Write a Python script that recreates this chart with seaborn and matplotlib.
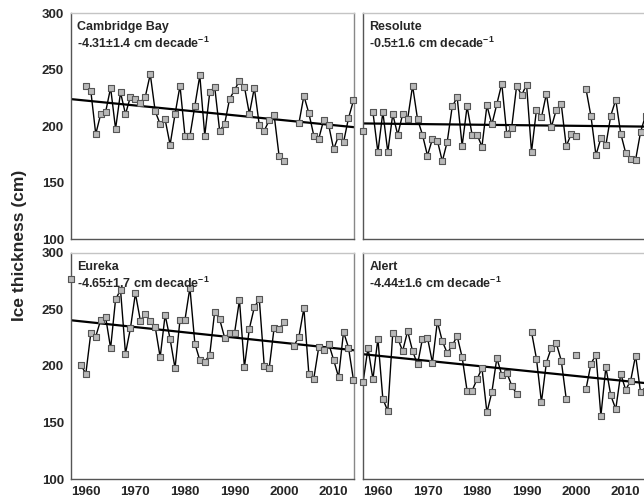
# ice thickness time series, four stations

import numpy as np
import pandas as pd
import seaborn as sns
import matplotlib.pyplot as plt

sns.set_theme(style='white')
plt.rcParams['font.family'] = ['Liberation Sans', 'DejaVu Sans']
plt.rcParams['mathtext.fontset'] = 'custom'
plt.rcParams['mathtext.rm'] = 'Liberation Sans:bold'
plt.rcParams['mathtext.bf'] = 'Liberation Sans:bold'

nan = np.nan
years = list(range(1957, 2015))

# values, 1957..2014 (nan = no data)
cambridge_bay = [nan, nan, nan,
    235.7, 231.3, 193.0, 210.6, 212.7, 233.9, 197.6, 229.8, 210.6, 226.0,
    223.9, 220.9, 226.0, 246.0, 213.0, 201.8, 205.9, 183.5, 210.6, 235.7,
    191.7, 191.2, 218.0, 244.8, 191.7, 229.8, 234.8, 195.9, 201.8, 223.9,
    231.9, 240.1, 234.8, 210.9, 233.9, 200.9, 195.9, 205.3, 209.7, 173.5,
    169.6, nan, nan, 202.7, 226.8, 211.5, 191.7, 188.8, 205.6, 200.9,
    179.6, 191.4, 185.8, 207.0, 222.7]
resolute = [195.3, nan, 212.4,
    177.0, 212.4, 177.0, 210.6, 192.3, 210.6, 206.2, 235.7, 206.2, 192.3,
    174.0, 188.5, 187.3, 169.0, 186.4, 217.4, 225.4, 182.6, 217.4, 192.6,
    192.6, 182.0, 218.3, 201.5, 219.5, 237.5, 193.5, 198.8, 235.7, 227.4,
    236.6, 177.3, 214.5, 207.7, 228.6, 199.1, 214.5, 219.5, 182.3, 192.9,
    191.4, nan, 232.7, 208.6, 174.4, 189.4, 183.2, 209.4, 223.3, 193.5,
    176.4, 171.1, 170.2, 194.7, 209.4]
eureka = [276.8, nan, 200.9,
    193.0, 228.8, 225.9, 240.6, 242.9, 215.6, 258.8, 267.1, 210.9, 233.2,
    264.1, 240.0, 245.9, 240.0, 234.4, 207.6, 245.0, 223.8, 197.9, 240.6,
    240.6, 269.1, 219.7, 205.0, 203.8, 209.7, 247.9, 241.2, 225.0, 228.8,
    228.8, 258.2, 198.8, 232.9, 251.8, 259.1, 200.0, 197.9, 233.8, 232.6,
    238.8, nan, 217.6, 225.9, 250.9, 193.0, 188.8, 216.5, 214.1, 219.7,
    205.3, 190.0, 230.0, 216.2, 187.6]
alert = [185.3, 215.9, 188.2,
    224.1, 170.9, 160.0, 229.1, 224.1, 213.2, 230.6, 213.2, 201.2, 224.1,
    225.0, 202.9, 239.1, 221.8, 211.2, 218.2, 226.2, 207.6, 177.9, 177.9,
    188.2, 197.9, 158.8, 176.8, 206.8, 192.1, 194.1, 182.6, 175.0, nan,
    nan, 230.0, 206.2, 167.9, 202.9, 215.9, 220.0, 204.7, 170.9, nan,
    210.0, nan, 179.7, 201.8, 210.0, 155.9, 198.8, 173.8, 161.8, 192.9,
    178.8, 186.8, 209.1, 176.8, 177.9]

stations = ['Cambridge Bay', 'Resolute', 'Eureka', 'Alert']
series = [cambridge_bay, resolute, eureka, alert]
trend_text = ['-4.31\u00b11.4', '-0.5\u00b11.6', '-4.65\u00b11.7', '-4.44\u00b11.6']

# trend line end points
trend_years = [1957, 2014.1]
trend_vals = [[223.9, 199.1], [202.4, 199.6], [240.3, 213.8], [210.3, 184.7]]

frames = []
for name, vals in zip(stations, series):
    d = pd.DataFrame({'year': years, 'ice': vals})
    d['seg'] = d['ice'].isna().cumsum()
    d['station'] = name
    frames.append(d.dropna())
df = pd.concat(frames, ignore_index=True)

fig = plt.figure(figsize=(6.44, 5.04), dpi=100)
w, h = 0.4394, 0.449
positions = [[0.1102, 0.5252, w, h], [0.5637, 0.5252, w, h],
             [0.1102, 0.0496, w, h], [0.5637, 0.0496, w, h]]

for i, name in enumerate(stations):
    ax = fig.add_axes(positions[i])
    d = df[df.station == name]
    sns.lineplot(data=d, x='year', y='ice', units='seg', estimator=None,
                 color='black', lw=1.0, ax=ax)
    sns.lineplot(x=trend_years, y=trend_vals[i], color='black', lw=1.6, ax=ax)
    sns.scatterplot(data=d, x='year', y='ice', marker='s', s=24,
                    color='#b8b8b8', edgecolor='#555555', linewidth=0.8,
                    ax=ax, zorder=3, clip_on=False)

    ax.set_xlim(1957, 2014.1)
    ax.set_ylim(100, 300)
    ax.set_xticks([1960, 1970, 1980, 1990, 2000, 2010])
    ax.set_yticks([100, 150, 200, 250, 300])
    ax.set_xlabel('')
    ax.set_ylabel('')
    ax.tick_params(direction='inout', length=4, width=0.8, color='#555555',
                   labelsize=9.5, pad=3)
    for lab in ax.get_xticklabels() + ax.get_yticklabels():
        lab.set_fontweight('bold')
    if i < 2:
        ax.tick_params(labelbottom=False)
    if i % 2 == 1:
        ax.tick_params(labelleft=False)

    ax.spines['left'].set_color('#555555')
    ax.spines['bottom'].set_color('#555555')
    ax.spines['right'].set_color('#888888')
    ax.spines['top'].set_color('#c4c4c4')
    for s in ax.spines.values():
        s.set_linewidth(1.0)

    ax.text(0.022, 0.965, name + '\n' + trend_text[i] + r' cm decade$^{\mathbf{-1}}$',
            transform=ax.transAxes, va='top', ha='left', fontsize=9,
            fontweight='bold', linespacing=1.25)

fig.text(0.031, 0.514, 'Ice thickness (cm)', rotation=90, va='center',
         ha='center', fontsize=12.5, fontweight='bold')

fig.savefig('out.png', dpi=100)
